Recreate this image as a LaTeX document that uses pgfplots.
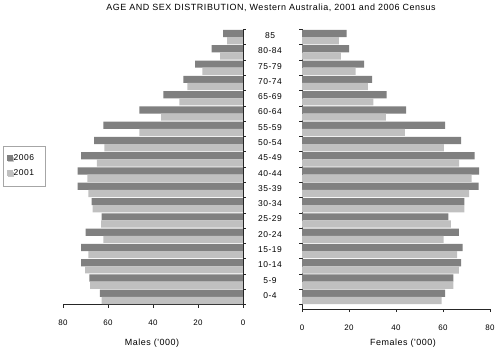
\documentclass[border=0pt]{standalone}
\usepackage{pgfplots}
\pgfplotsset{compat=1.18}
\usepackage{pgfplotstable}
\usetikzlibrary{shadows}
\usepackage{fontspec}
\setmainfont{Liberation Sans}
\newfontfamily\wf[LetterSpace=6]{Liberation Sans}
\definecolor{dark}{RGB}{128,128,128}
\definecolor{light}{RGB}{192,192,192}
\pgfplotstableread{
y m06 m01 f06 f01
0 63.6 62.8 60.9 59.4
1 68.3 68.0 64.4 64.4
2 72.0 70.2 67.7 66.8
3 72.0 68.7 68.4 66.0
4 69.9 62.1 66.7 60.3
5 62.8 63.1 62.3 63.3
6 67.3 66.8 69.1 69.1
7 73.5 68.7 75.2 71.1
8 73.5 69.2 75.4 72.2
9 72.0 65.0 73.5 66.9
10 66.2 61.6 67.7 60.4
11 62.1 46.1 60.9 43.8
12 46.1 36.4 44.3 35.7
13 35.4 28.3 36.0 30.4
14 26.5 24.7 29.8 28.0
15 21.3 18.1 26.4 22.8
16 13.9 10.2 20.1 16.5
17 8.8 7.0 19.0 15.7
}\data
\pgfplotsset{
  common/.style={
    scale only axis,
    ymax=17.5,
    xbar, bar width=0.47,
    axis x line*=bottom,
    axis line style={black!85, line width=0.6pt},
    tick style={black!85, line width=0.6pt},
    tick align=outside, major tick length=3bp, minor tick length=3bp,
    /pgf/number format/assume math mode=true,
    xticklabel style={font=\wf\fontsize{8}{9}\selectfont, yshift=-9bp},
    clip=false,
  },
}
\begin{document}
\begin{tikzpicture}[x=1bp,y=1bp]
\useasboundingbox (0,0) rectangle (500,351);
% Males
\begin{axis}[common, width=180bp, height=275bp, ymin=-0.5,
  at={(63bp,46.5bp)}, anchor=south west,
  xmin=-80, xmax=0, xtick={-80,-60,-40,-20,0}, xticklabels={80,60,40,20,0},
  axis y line*=right,
  ytick={-0.5,0.5,...,17.5}, yticklabels={},
  legend style={at={(-0.336,0.578)}, anchor=north west, draw=black!35, fill=white,
    drop shadow={shadow xshift=1.2bp, shadow yshift=-1.2bp, fill=black!45},
    font=\wf\fontsize{8.5}{9}\selectfont, inner xsep=4bp, inner ysep=8bp, row sep=6bp,
    nodes={inner sep=1bp, text height=6bp, text depth=1bp}},
  legend cell align=left,
  legend image code/.code={\fill[#1] (0bp,-2.8bp) rectangle (6bp,2.8bp);},
]
\addplot[fill=dark, draw=none, bar shift=0.235] table[x expr=-\thisrow{m06}, y=y] {\data};
\addlegendentry{\makebox[26bp][l]{2006}}
\addplot[fill=light, draw=none, bar shift=-0.235] table[x expr=-\thisrow{m01}, y=y] {\data};
\addlegendentry{\makebox[26bp][l]{2001}}
\end{axis}
% Females
\begin{axis}[common, width=188bp, height=279.6bp, ymin=-0.8,
  at={(302bp,41.9bp)}, anchor=south west,
  xmin=0, xmax=80, xtick={0,20,40,60,80},
  axis y line*=left,
  ytick={0,...,17},
  yticklabels={0-4,5-9,10-14,15-19,20-24,25-29,30-34,35-39,40-44,45-49,50-54,55-59,60-64,65-69,70-74,75-79,80-84,85},
  yticklabel style={font=\wf\fontsize{8.5}{9}\selectfont, anchor=center, xshift=-29bp, yshift=1.5bp},
  major y tick style={draw=none},
  minor ytick={-0.5,0.5,...,17.5},
]
\addplot[fill=dark, draw=none, bar shift=0.235] table[x=f06, y=y] {\data};
\addplot[fill=light, draw=none, bar shift=-0.235] table[x=f01, y=y] {\data};
\end{axis}
\node[font=\wf\fontsize{9}{10}\selectfont] at (271,343) {AGE AND SEX DISTRIBUTION, Western Australia, 2001 and 2006 Census};
\node[font=\wf\fontsize{9}{10}\selectfont] at (152,8) {Males ('000)};
\node[font=\wf\fontsize{9}{10}\selectfont] at (403,8) {Females ('000)};
\end{tikzpicture}
\end{document}
